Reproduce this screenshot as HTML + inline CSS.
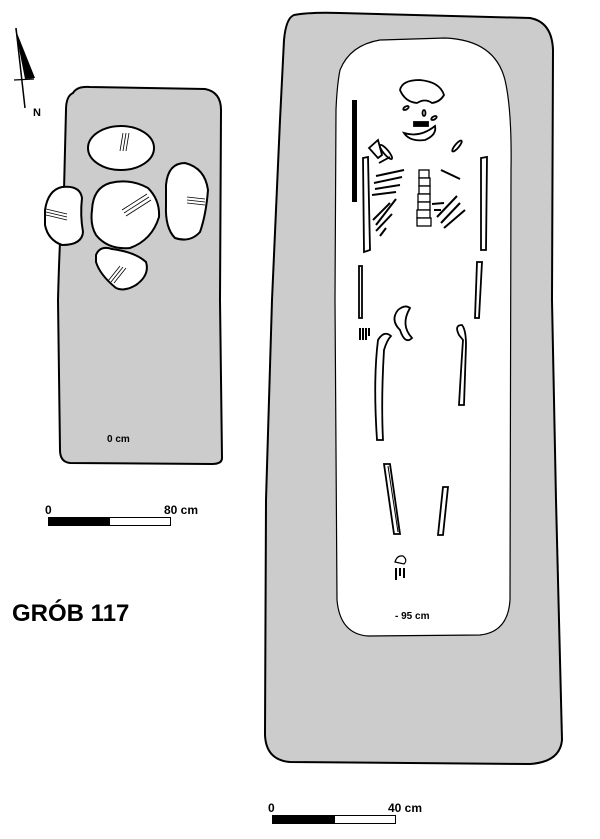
<!DOCTYPE html>
<html><head><meta charset="utf-8"><style>
html,body{margin:0;padding:0;background:#fff;}
svg{display:block;}
text{font-family:"Liberation Sans",Arial,sans-serif;font-weight:bold;fill:#000;}
</style></head><body>
<svg width="600" height="839" viewBox="0 0 600 839" xmlns="http://www.w3.org/2000/svg">
<!-- North arrow -->
<line x1="16" y1="28" x2="25" y2="108" stroke="#000" stroke-width="1.5"/>
<polygon points="15,28 35,78 25,79" fill="#000"/>
<line x1="14" y1="80" x2="34" y2="79" stroke="#000" stroke-width="1.2"/>
<text x="33" y="116" font-size="11">N</text>

<!-- Left grave -->
<path d="M73,93 Q77,86 90,87 L205,89 Q221,92 221,110 L220,300 L222,458 Q222,464 212,464 L70,463 Q60,462 60,450 L58,300 Q60,220 64,190 L66,110 Q66,96 73,93 Z" fill="#cccccc" stroke="#000" stroke-width="2"/>
<!-- stones -->
<ellipse cx="121" cy="148" rx="33" ry="22" fill="#fff" stroke="#000" stroke-width="2"/>
<path d="M123,133 L120,151 M126,133 L123,151 M129,133 L126,151" stroke="#000" stroke-width="0.8"/>
<path d="M92,210 Q93,188 110,183 Q130,178 148,188 Q160,200 159,217 Q152,240 130,248 Q108,250 96,235 Q90,225 92,210 Z" fill="#fff" stroke="#000" stroke-width="2"/>
<path d="M122,210 L147,194 M124,213 L149,197 M126,216 L151,200" stroke="#000" stroke-width="0.8"/>
<path d="M45,210 Q48,190 62,187 Q80,185 82,198 Q80,215 83,232 Q82,245 62,245 Q48,240 45,225 Z" fill="#fff" stroke="#000" stroke-width="2"/>
<path d="M46,209 L67,214 M46,212 L67,217 M46,215 L67,220" stroke="#000" stroke-width="0.8"/>
<path d="M166,185 Q168,163 185,163 Q205,168 208,190 Q206,215 200,232 Q190,243 175,238 Q165,228 166,205 Z" fill="#fff" stroke="#000" stroke-width="2"/>
<path d="M187,197 L205,199 M187,200 L205,202 M187,203 L205,205" stroke="#000" stroke-width="0.8"/>
<path d="M96,255 Q100,245 112,249 Q135,252 146,262 Q150,275 136,285 Q124,292 116,288 Q100,275 96,262 Z" fill="#fff" stroke="#000" stroke-width="2"/>
<path d="M108,281 L120,266 M111,282 L123,267 M114,283 L126,268" stroke="#000" stroke-width="0.8"/>
<text x="107" y="442" font-size="10">0 cm</text>

<!-- left scale -->
<text x="45" y="514" font-size="12">0</text>
<text x="164" y="514" font-size="12">80 cm</text>
<rect x="48.5" y="517.5" width="122" height="8" fill="#fff" stroke="#000" stroke-width="1"/>
<rect x="48" y="517" width="62" height="9" fill="#000"/>

<text x="12" y="621" font-size="24">GRÓB 117</text>

<!-- Right grave -->
<path d="M294,15 Q310,12 340,13 L530,18 Q552,22 553,50 L552,300 L556,500 L562,740 Q560,762 530,764 L290,762 Q266,760 265,735 L266,500 L272,300 L280,120 L284,40 Q286,18 294,15 Z" fill="#cccccc" stroke="#000" stroke-width="2"/>
<path d="M340,70 Q350,45 380,40 L445,38 Q495,40 505,80 Q512,110 511,170 L510,600 Q508,632 480,635 L368,636 Q340,634 337,600 L335,300 L336,110 Q337,85 340,70 Z" fill="#fff" stroke="#000" stroke-width="1.2"/>
<text x="395" y="619" font-size="10">- 95 cm</text>

<!-- skeleton -->
<g fill="none" stroke="#000" stroke-width="1.8">
<path d="M400,90 Q402,80 420,80 Q440,82 444,95 Q440,102 432,103 Q425,98 417,103 Q405,102 400,90 Z"/>
<path d="M404,133 Q420,138 435,126 Q437,135 425,140 Q410,142 404,133 Z"/>
<rect x="414" y="122" width="14" height="4" fill="#000"/>
<ellipse cx="406" cy="108" rx="3" ry="1.5" transform="rotate(-30 406 108)"/>
<ellipse cx="424" cy="113" rx="1.5" ry="3"/>
<ellipse cx="434" cy="118" rx="3" ry="1.5" transform="rotate(-30 434 118)"/>
<path d="M369,148 L378,140 L382,155 L378,158 Z"/>
<ellipse cx="386" cy="152" rx="2.5" ry="9" transform="rotate(-40 386 152)"/>
<ellipse cx="457" cy="146" rx="2" ry="7" transform="rotate(40 457 146)"/>
<line x1="379" y1="163" x2="390" y2="157"/>
<path d="M363,158 L368,157 L370,250 L364,252 Z"/>
<path d="M481,158 L487,157 L486,250 L481,250 Z"/>
<path d="M359,266 L362,266 L362,318 L359,318 Z"/>
<path d="M477,262 L482,262 L479,318 L475,318 Z"/>
<path d="M398,310 Q390,320 400,330 Q405,345 412,338 Q400,325 410,308 Q405,304 398,310 Z"/>
<path d="M377,440 L383,440 Q381,400 384,350 Q387,340 391,336 Q384,330 378,340 Q373,380 377,440 Z"/>
<path d="M459,335 Q454,325 462,325 Q466,330 466,345 L464,405 L459,405 Q461,370 463,340 Z"/>
<path d="M384,464 L390,464 L400,534 L394,534 Z"/>
<line x1="388" y1="466" x2="398" y2="532" stroke-width="1"/>
<path d="M443,487 L448,487 L443,535 L438,535 Z"/>
<path d="M395,562 Q397,555 403,556 Q408,560 404,564 Z" stroke-width="1.2"/>
</g>
<g stroke="#000" stroke-width="2" fill="none">
<line x1="376" y1="176" x2="404" y2="170"/>
<line x1="374" y1="183" x2="402" y2="177"/>
<line x1="375" y1="189" x2="400" y2="185"/>
<line x1="372" y1="195" x2="396" y2="192"/>
<line x1="376" y1="225" x2="396" y2="199"/>
<line x1="373" y1="220" x2="390" y2="203"/>
<line x1="376" y1="231" x2="392" y2="214"/>
<line x1="380" y1="236" x2="386" y2="228"/>
<line x1="441" y1="170" x2="460" y2="179"/>
<line x1="437" y1="217" x2="457" y2="196"/>
<line x1="441" y1="223" x2="460" y2="203"/>
<line x1="444" y1="228" x2="465" y2="210"/>
<line x1="432" y1="204" x2="444" y2="203"/>
<line x1="434" y1="210" x2="441" y2="210"/>
</g>
<g fill="#fff" stroke="#000" stroke-width="1.3">
<rect x="419" y="170" width="10" height="8"/>
<rect x="419" y="178" width="11" height="8"/>
<rect x="419" y="186" width="11" height="8"/>
<rect x="418" y="194" width="12" height="8"/>
<rect x="418" y="202" width="12" height="8"/>
<rect x="417" y="210" width="13" height="8"/>
<rect x="417" y="218" width="14" height="8"/>
</g>
<rect x="352" y="100" width="5" height="102" fill="#000"/>
<g fill="#000">
<rect x="359" y="328" width="2" height="12"/><rect x="362" y="328" width="2" height="12"/><rect x="365" y="328" width="2" height="12"/><rect x="368" y="328" width="2" height="8"/>
<rect x="395" y="568" width="2" height="12"/><rect x="399" y="568" width="2" height="8"/><rect x="403" y="568" width="2" height="10"/>
</g>

<!-- bottom scale -->
<text x="268" y="812" font-size="12">0</text>
<text x="388" y="812" font-size="12">40 cm</text>
<rect x="272.5" y="815.5" width="123" height="8" fill="#fff" stroke="#000" stroke-width="1"/>
<rect x="272" y="815" width="63" height="9" fill="#000"/>
</svg>
</body></html>
